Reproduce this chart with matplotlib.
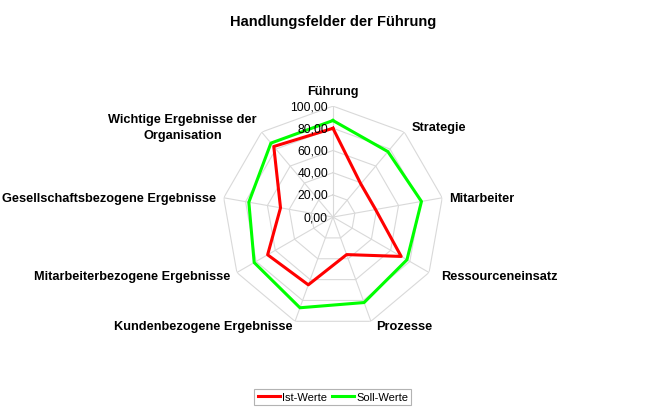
import numpy as np
import matplotlib
matplotlib.use('Agg')
import matplotlib.pyplot as plt

plt.rcParams['font.family'] = ['Liberation Sans', 'DejaVu Sans']

# ── Daten ──
kategorien = ['Führung', 'Strategie', 'Mitarbeiter', 'Ressourceneinsatz', 'Prozesse',
              'Kundenbezogene Ergebnisse', 'Mitarbeiterbezogene Ergebnisse',
              'Gesellschaftsbezogene Ergebnisse', 'Wichtige Ergebnisse der\nOrganisation']
ist_werte = [80, 39, 39, 71, 36, 65, 68, 48, 83]
soll_werte = [87, 77, 81, 77, 82, 87, 82, 77, 87]
ticks = [0, 20, 40, 60, 80, 100]
tick_labels = ['0,00', '20,00', '40,00', '60,00', '80,00', '100,00']

n = len(kategorien)
ang = np.linspace(0, 2*np.pi, n, endpoint=False)
ang_c = np.append(ang, ang[0])

fig = plt.figure(figsize=(6.66, 4.14), dpi=100)
ax = fig.add_axes([0.3333, 0.2053, 0.3333, 0.536], projection='polar')
ax.set_theta_zero_location('N')
ax.set_theta_direction(-1)
ax.set_ylim(0, 100)
ax.grid(False)
ax.spines['polar'].set_visible(False)
ax.set_xticks([])
ax.set_yticks([])
ax.patch.set_alpha(0)

# Netz (Polygone + Speichen)
for t in ticks[1:]:
    ax.plot(ang_c, [t]*(n+1), color='#d9d9d9', lw=0.8, zorder=1)
for a in ang:
    ax.plot([a, a], [0, 100], color='#d9d9d9', lw=0.8, zorder=1)

for t, lab in zip(ticks, tick_labels):
    ax.annotate(lab, xy=(0, t), xytext=(-5, 0), textcoords='offset pixels',
                ha='right', va='center', fontsize=8.7, zorder=5)

# Serien
l1, = ax.plot(ang_c, ist_werte + ist_werte[:1], color='#ff0000', lw=2.2, zorder=3, label='Ist-Werte')
l2, = ax.plot(ang_c, soll_werte + soll_werte[:1], color='#00ff00', lw=2.2, zorder=2, label='Soll-Werte')

# Kategorien
offs = [(0, 15, 'center'), (7, 5, 'left'), (7, 0, 'left'), (12, -3, 'left'), (5, -5, 'left'),
        (-2, -5, 'right'), (-7, -3, 'right'), (-8, 0, 'right'), (-5, 5, 'right')]
for a, k, (dx, dy, ha) in zip(ang, kategorien, offs):
    ax.annotate(k, xy=(a, 100), xytext=(dx, dy), textcoords='offset pixels',
                ha=ha, va='center', multialignment='center', linespacing=1.35,
                fontsize=9.2, fontweight='bold')

fig.text(0.5, 1-22/414, 'Handlungsfelder der Führung', ha='center', va='center',
         fontsize=10.5, fontweight='bold')

leg = fig.legend(handles=[l1, l2], loc='center', bbox_to_anchor=(0.5, 1-398/414),
                 ncol=2, fontsize=8, frameon=True, fancybox=False,
                 handlelength=2.0, handletextpad=0.2, columnspacing=0.4,
                 borderpad=0.3)
leg.get_frame().set_edgecolor('#a0a0a0')
leg.get_frame().set_linewidth(0.8)

plt.savefig('out.png', dpi=100)
plt.close()
